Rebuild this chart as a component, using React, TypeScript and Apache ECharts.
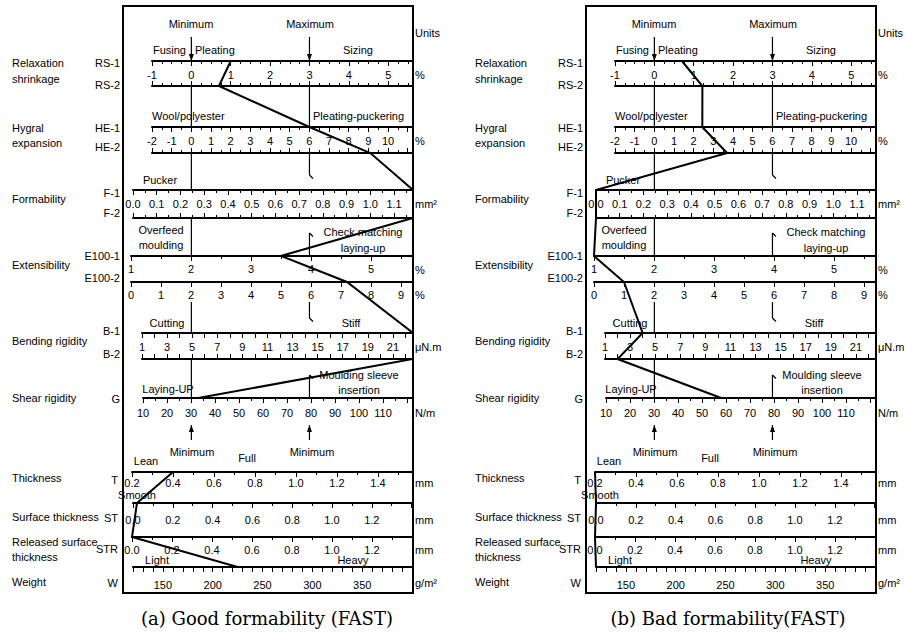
import { useEffect, useRef } from "react";
import * as echarts from "echarts";

// ---- tick labels of each scale ----
const RS_TICKS = [-1, 0, 1, 2, 3, 4, 5];
const HE_TICKS = [-2, -1, 0, 1, 2, 3, 4, 5, 6, 7, 8, 9, 10];
const F_TICKS = [0, 0.1, 0.2, 0.3, 0.4, 0.5, 0.6, 0.7, 0.8, 0.9, 1.0, 1.1];
const E1_TICKS = [1, 2, 3, 4, 5];
const E2_TICKS = [0, 1, 2, 3, 4, 5, 6, 7, 8, 9];
const B_TICKS = [1, 3, 5, 7, 9, 11, 13, 15, 17, 19, 21];
const G_TICKS = [10, 20, 30, 40, 50, 60, 70, 80, 90, 100, 110];
const T_TICKS = [0.2, 0.4, 0.6, 0.8, 1.0, 1.2, 1.4];
const ST_TICKS = [0, 0.2, 0.4, 0.6, 0.8, 1.0, 1.2];
const STR_TICKS = [0, 0.2, 0.4, 0.6, 0.8, 1.0, 1.2];
const W_TICKS = [150, 200, 250, 300, 350];

// ---- fabric profiles ----
const UPPER_STOPS = ["RS-1", "RS-2", "HE-1", "HE-2", "F-1", "F-2", "E100-1", "E100-2", "B-1", "B-2", "G"];
const LOWER_STOPS = ["T", "ST", "STR", "W"];
const GOOD_UPPER = [1.0, 0.7, 6.0, 9.1, 1.18, 1.18, 3.5, 7.2, 22.6, 22.6, 33];
const GOOD_LOWER = [0.4, 0.02, 0.0, 225];
const BAD_UPPER = [0.7, 1.22, 2.44, 3.7, 0.0, 0.0, 1.0, 1.0, 4.0, 2.0, 58];
const BAD_LOWER = [0.2, 0.0, 0.0, 120];

// reference lines (value on RS scale)
const MINIMUM_REF = 0;
const MAXIMUM_REF = 3;

const GROUP_LABELS: [string, number][] = [
  ["Relaxation", 63], ["shrinkage", 79], ["Hygral", 128], ["expansion", 143],
  ["Formability", 199], ["Extensibility", 265], ["Bending rigidity", 341],
  ["Shear rigidity", 398], ["Thickness", 478], ["Surface thickness", 517],
  ["Released surface", 542], ["thickness", 557], ["Weight", 582],
];
const CODE_LABELS: [string, number, number][] = [
  ["RS-1", 120, 63], ["RS-2", 120, 85], ["HE-1", 120, 128], ["HE-2", 120, 147],
  ["F-1", 120, 193], ["F-2", 120, 213], ["E100-1", 120, 256], ["E100-2", 120, 278],
  ["B-1", 120, 331], ["B-2", 120, 354], ["G", 120, 399], ["T", 118, 480],
  ["ST", 118, 518], ["STR", 118, 549], ["W", 118, 583],
];
const UNIT_LABELS: [string, number][] = [
  ["Units", 33], ["%", 75], ["%", 141], ["mm²", 204], ["%", 270], ["%", 295],
  ["μN.m", 347], ["N/m", 413], ["mm", 483], ["mm", 520], ["mm", 550], ["g/m²", 583],
];
const NOTES: [string, number, number, string][] = [
  ["Minimum", 191, 24, "center"], ["Maximum", 310, 24, "center"],
  ["Fusing", 186, 50, "right"], ["Pleating", 195, 50, "left"], ["Sizing", 358, 50, "center"],
  ["Wool/polyester", 152, 116, "left"], ["Pleating-puckering", 313, 116, "left"],
  ["Pucker", 160, 180, "center"], ["Overfeed", 161, 230, "center"], ["moulding", 161, 245, "center"],
  ["Check matching", 363, 232, "center"], ["laying-up", 363, 248, "center"],
  ["Cutting", 167, 323, "center"], ["Stiff", 351, 323, "center"],
  ["Laying-UP", 168, 389, "center"], ["Moulding sleeve", 359, 375, "center"], ["insertion", 359, 390, "center"],
  ["Minimum", 192, 452, "center"], ["Minimum", 312, 452, "center"],
  ["Lean", 146, 461, "center"], ["Full", 247, 458, "center"], ["Smooth", 137, 495, "center"],
  ["Light", 157, 560, "center"], ["Heavy", 353, 560, "center"],
];

const PANELS = [
  { dx: 0, upper: GOOD_UPPER, lower: GOOD_LOWER, caption: "(a) Good formability (FAST)", cx: 267 },
  { dx: 463, upper: BAD_UPPER, lower: BAD_LOWER, caption: "(b) Bad formability(FAST)", cx: 728 },
];

type AxisSpec = {
  stop: string; position: "top" | "bottom"; min: number; max: number; interval: number;
  minor: number; ticks?: number[]; dec?: number; inside: boolean; margin?: number;
};
type RowSpec = { left: number; width: number; top: number; height: number; axes: AxisSpec[] };

const ROWS: RowSpec[] = [
  { left: 152, width: 261, top: 61, height: 25, axes: [
    { stop: "RS-1", position: "top", min: -1, max: 5.63, interval: 1, minor: 4, ticks: RS_TICKS, dec: 0, inside: true, margin: 8 },
    { stop: "RS-2", position: "bottom", min: -1, max: 5.63, interval: 1, minor: 4, inside: true }] },
  { left: 152, width: 261, top: 127, height: 26, axes: [
    { stop: "HE-1", position: "top", min: -2, max: 11.27, interval: 1, minor: 2, ticks: HE_TICKS, dec: 0, inside: true, margin: 8 },
    { stop: "HE-2", position: "bottom", min: -2, max: 11.27, interval: 1, minor: 2, inside: true }] },
  { left: 133, width: 280, top: 190, height: 28, axes: [
    { stop: "F-1", position: "top", min: 0, max: 1.18, interval: 0.1, minor: 2, ticks: F_TICKS, dec: 1, inside: true, margin: 8 },
    { stop: "F-2", position: "bottom", min: 0, max: 1.18, interval: 0.1, minor: 2, inside: true }] },
  { left: 131, width: 282, top: 256, height: 26, axes: [
    { stop: "E100-1", position: "top", min: 1, max: 5.7, interval: 1, minor: 2, ticks: E1_TICKS, dec: 0, inside: true, margin: 7 },
    { stop: "E100-2", position: "bottom", min: 0, max: 9.4, interval: 1, minor: 1, ticks: E2_TICKS, dec: 0, inside: false, margin: 7 }] },
  { left: 142, width: 271, top: 333, height: 26, axes: [
    { stop: "B-1", position: "top", min: 1, max: 22.6, interval: 1, minor: 1, ticks: B_TICKS, dec: 0, inside: true, margin: 8 },
    { stop: "B-2", position: "bottom", min: 1, max: 22.6, interval: 1, minor: 1, inside: true }] },
  { left: 143, width: 270, top: 398, height: 16, axes: [
    { stop: "G", position: "top", min: 10, max: 122.5, interval: 10, minor: 2, ticks: G_TICKS, dec: 0, inside: true, margin: 9 }] },
  { left: 132, width: 281, top: 472, height: 16, axes: [
    { stop: "T", position: "top", min: 0.2, max: 1.571, interval: 0.2, minor: 2, ticks: T_TICKS, dec: 1, inside: true, margin: 5 }] },
  { left: 133, width: 280, top: 503, height: 16, axes: [
    { stop: "ST", position: "top", min: 0, max: 1.407, interval: 0.2, minor: 2, ticks: ST_TICKS, dec: 1, inside: true, margin: 11 }] },
  { left: 132, width: 281, top: 537, height: 16, axes: [
    { stop: "STR", position: "top", min: 0, max: 1.405, interval: 0.2, minor: 2, ticks: STR_TICKS, dec: 1, inside: true, margin: 7 }] },
  { left: 133, width: 280, top: 567, height: 16, axes: [
    { stop: "W", position: "top", min: 120, max: 401, interval: 10, minor: 1, ticks: W_TICKS, dec: 0, inside: true, margin: 12 }] },
];

const FONT = '"Liberation Sans", Arial, sans-serif';
const INK = "#000";

function txt(x: number, y: number, text: string, align = "left", size = 11, family = FONT) {
  return {
    type: "text", x, y, silent: true,
    style: {
      text, fill: INK, fontSize: size, fontFamily: family,
      textAlign: align, align, textVerticalAlign: "middle", verticalAlign: "middle",
    },
  };
}

export default function App() {
  const ref = useRef<HTMLDivElement>(null);
  useEffect(() => {
    const chart = echarts.init(ref.current!, null, { renderer: "svg" });
    const grid: any[] = [];
    const xAxis: any[] = [];
    const yAxis: any[] = [];
    const maps: Record<string, { xi: number; yi: number; yv: number }>[] = [];

    PANELS.forEach((panel) => {
      const m: Record<string, { xi: number; yi: number; yv: number }> = {};
      ROWS.forEach((row) => {
        const gi = grid.length;
        grid.push({
          left: row.left + panel.dx, top: row.top, width: row.width, height: row.height,
          show: false, containLabel: false, outerBoundsMode: "none",
        });
        yAxis.push({ gridIndex: gi, type: "value", min: 0, max: 1, show: false });
        row.axes.forEach((a) => {
          m[a.stop] = { xi: xAxis.length, yi: gi, yv: a.position === "top" ? 1 : 0 };
          xAxis.push({
            gridIndex: gi, type: "value", position: a.position,
            min: a.min, max: a.max, interval: a.interval,
            axisLine: { show: true, onZero: false, lineStyle: { color: INK, width: 2 } },
            axisTick: { show: true, inside: a.inside, length: 5, lineStyle: { color: INK, width: 1 } },
            minorTick: { show: a.minor > 1, splitNumber: a.minor, length: 3, lineStyle: { color: INK, width: 1 } },
            splitLine: { show: false },
            minorSplitLine: { show: false },
            axisLabel: a.ticks ? {
              show: true, inside: a.inside, margin: a.margin, customValues: a.ticks,
              showMinLabel: true, showMaxLabel: true, hideOverlap: false,
              formatter: (v: number) => v.toFixed(a.dec || 0),
              color: INK, fontSize: 11, fontFamily: FONT,
            } : { show: false },
          });
        });
      });
      maps.push(m);
    });

    chart.setOption({
      animation: false,
      backgroundColor: "#fff",
      textStyle: { fontFamily: FONT },
      grid, xAxis, yAxis, series: [],
    });

    const elements: any[] = [];
    PANELS.forEach((panel, p) => {
      const m = maps[p];
      const P = (stop: string, v: number) =>
        chart.convertToPixel({ xAxisIndex: m[stop].xi, yAxisIndex: m[stop].yi } as any, [v, m[stop].yv]) as number[];
      const Y = (stop: string) => P(stop, 0)[1];
      const dx = panel.dx;

      // frame
      elements.push({ type: "rect", shape: { x: 123 + dx, y: 6, width: 290, height: 587 },
        style: { fill: "none", stroke: INK, lineWidth: 2 }, silent: true });

      // reference lines
      const line = (x: number, y1: number, y2: number) => elements.push({
        type: "line", shape: { x1: x, y1, x2: x, y2 }, style: { stroke: INK, lineWidth: 1.2 }, silent: true });
      const hook = (x: number, y: number) => elements.push({
        type: "line", shape: { x1: x, y1: y, x2: x + 3.5, y2: y + 3.5 }, style: { stroke: INK, lineWidth: 1.2 }, silent: true });
      const headDown = (x: number, y: number) => elements.push({
        type: "polygon", shape: { points: [[x - 2.5, y - 7], [x + 2.5, y - 7], [x, y]] }, style: { fill: INK }, silent: true });
      const headUp = (x: number, y: number) => elements.push({
        type: "polygon", shape: { points: [[x - 2.5, y + 7], [x + 2.5, y + 7], [x, y]] }, style: { fill: INK }, silent: true });

      const xMin = P("RS-1", MINIMUM_REF)[0];
      const xMax = P("RS-1", MAXIMUM_REF)[0];
      [xMin, xMax].forEach((x) => {
        line(x, Y("RS-1") - 24, Y("RS-1"));
        headDown(x, Y("RS-1"));
        line(x, Y("RS-2"), Y("HE-1"));
        line(x, Y("G") + 42, Y("G") + 27);
        headUp(x, Y("G") + 27);
      });
      line(xMin, Y("HE-2"), Y("F-1"));
      line(xMin, Y("F-2"), Y("E100-1"));
      line(xMin, Y("E100-2") + 20, Y("B-1"));
      line(xMin, Y("B-2"), Y("G"));

      line(xMax, Y("HE-2"), Y("HE-2") + 22); hook(xMax, Y("HE-2") + 22);
      line(xMax, Y("E100-1"), Y("E100-1") - 23); hook(xMax, Y("E100-1") - 23);
      line(xMax, Y("E100-2") + 20, Y("E100-2") + 36); hook(xMax, Y("E100-2") + 36);
      line(xMax, Y("G"), Y("G") - 23); hook(xMax, Y("G") - 23);

      // profile
      elements.push({ type: "polyline", silent: true,
        shape: { points: UPPER_STOPS.map((s, i) => P(s, panel.upper[i])) },
        style: { stroke: INK, lineWidth: 2, fill: null, lineJoin: "miter" } });
      elements.push({ type: "polyline", silent: true,
        shape: { points: LOWER_STOPS.map((s, i) => P(s, panel.lower[i])) },
        style: { stroke: INK, lineWidth: 2, fill: null, lineJoin: "miter" } });

      // texts
      GROUP_LABELS.forEach(([t, y]) => elements.push(txt(12 + dx, y, t, "left")));
      CODE_LABELS.forEach(([t, x, y]) => elements.push(txt(x + dx, y, t, "right")));
      UNIT_LABELS.forEach(([t, y]) => elements.push(txt(415 + dx, y, t, "left")));
      NOTES.forEach(([t, x, y, a]) => elements.push(txt(x + dx, y, t, a)));
      elements.push(txt(panel.cx, 618, panel.caption, "center", 18, '"DejaVu Serif", serif'));
    });

    chart.setOption({ graphic: { elements } });
    return () => chart.dispose();
  }, []);

  return (
    <div
      ref={ref}
      style={{ position: "absolute", left: 0, top: 0, width: 906, height: 633, background: "#fff" }}
    />
  );
}
